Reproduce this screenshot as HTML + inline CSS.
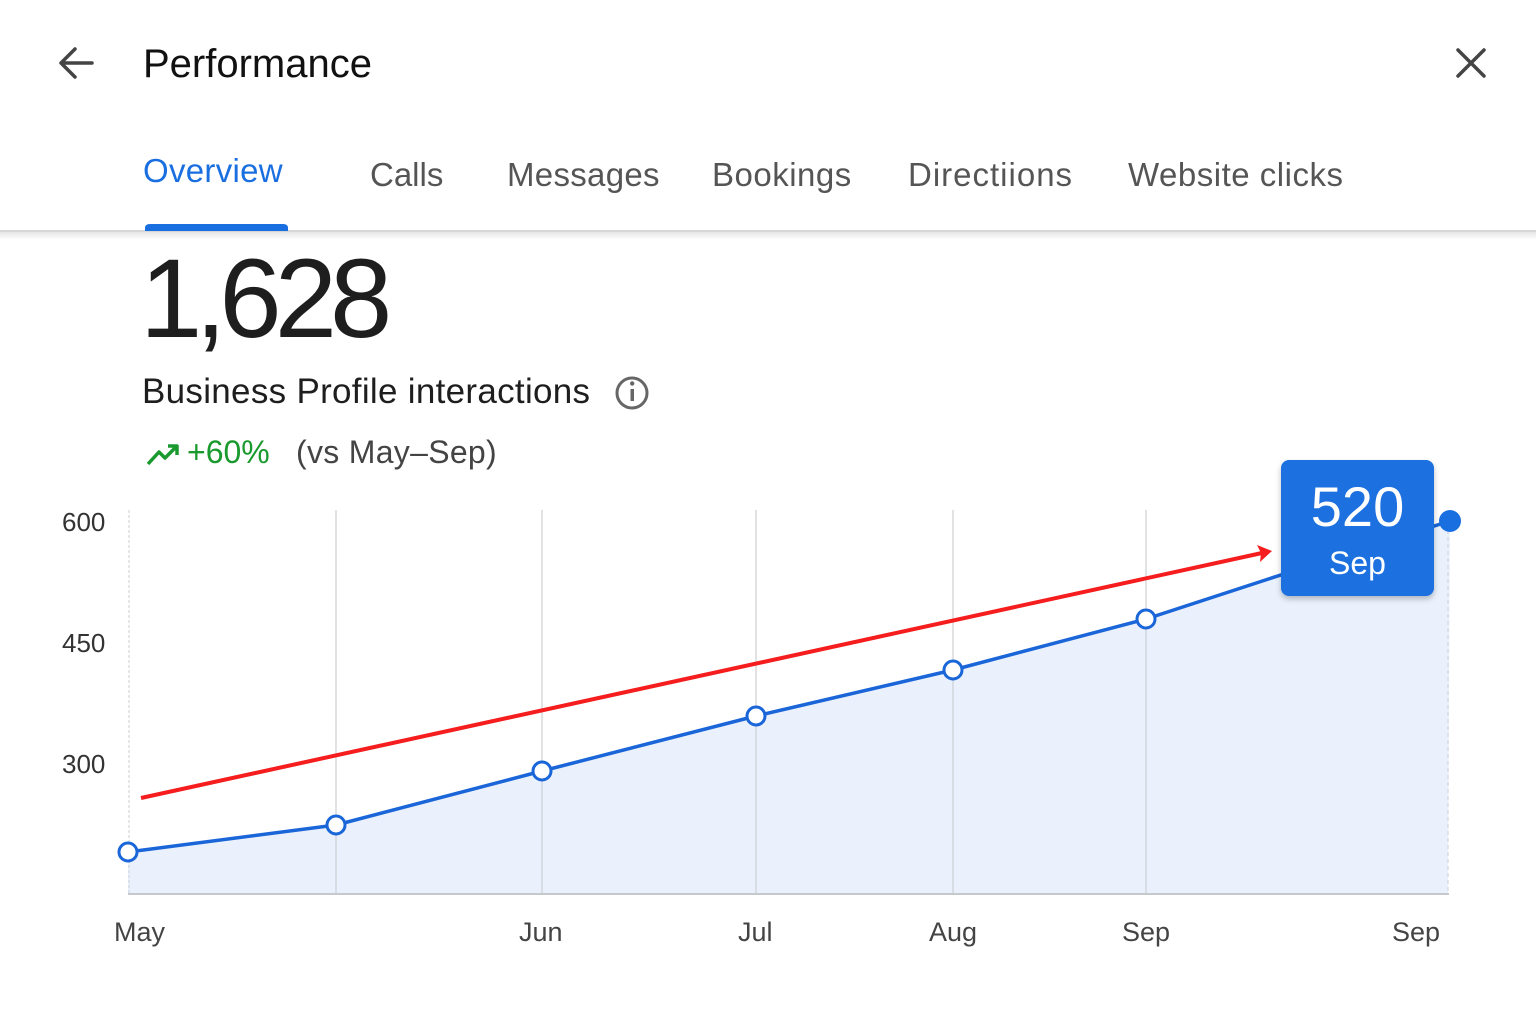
<!DOCTYPE html>
<html><head><meta charset="utf-8"><style>
html,body{margin:0;padding:0;background:#fff;}
body{width:1536px;height:1024px;overflow:hidden;position:relative;font-family:"Liberation Sans",sans-serif;}
.t{position:absolute;white-space:nowrap;}
</style></head><body>
<svg width="1536" height="1024" style="position:absolute;left:0;top:0">
<defs>
<linearGradient id="sh" x1="0" y1="0" x2="0" y2="1"><stop offset="0" stop-color="#000" stop-opacity="0.10"/><stop offset="1" stop-color="#000" stop-opacity="0"/></linearGradient>
<filter id="ds" x="-20%" y="-20%" width="140%" height="140%"><feDropShadow dx="0" dy="3" stdDeviation="3" flood-opacity="0.25"/></filter>
</defs>
<path d="M92 63 H62 M75 49 L61 63 L75 77" stroke="#444" stroke-width="3.5" fill="none" stroke-linecap="round" stroke-linejoin="round"/>
<path d="M1458 50 L1484 76 M1484 50 L1458 76" stroke="#444" stroke-width="3.5" stroke-linecap="round"/>
<rect x="0" y="230" width="1536" height="2" fill="#d6d6d6"/>
<rect x="0" y="232" width="1536" height="8" fill="url(#sh)"/>
<path d="M145 231 V228 Q145 224 150 224 H283 Q288 224 288 228 V231 Z" fill="#1a6fe0"/>
<circle cx="632" cy="393" r="15" fill="none" stroke="#666" stroke-width="3"/>
<rect x="630.5" y="389" width="3.5" height="12" fill="#666"/><circle cx="632.2" cy="383.5" r="2.2" fill="#666"/>
<path d="M148 464 L159 452 L165 458 L176 447 M168 446 H177 V455" stroke="#1a9a2e" stroke-width="3.5" fill="none" stroke-linejoin="round"/>
<path d="M128 852 L336 825 L542 771 L756 716 L953 670 L1146 619 L1290 572 L1450 521 L1448 893 L128 893 Z" fill="#eaf1fd"/>
<g stroke="#cfd2d6" stroke-width="1.3">
<line x1="336" y1="510" x2="336" y2="893"/><line x1="542" y1="510" x2="542" y2="893"/><line x1="756" y1="510" x2="756" y2="893"/><line x1="953" y1="510" x2="953" y2="893"/><line x1="1146" y1="510" x2="1146" y2="893"/>
</g>
<line x1="129" y1="510" x2="129" y2="893" stroke="#d5d8dc" stroke-width="1.3" stroke-dasharray="3 2"/>
<line x1="1448" y1="530" x2="1448" y2="893" stroke="#d5d8dc" stroke-width="1.3" stroke-dasharray="4 3"/>
<line x1="128" y1="894" x2="1449" y2="894" stroke="#c5c8cc" stroke-width="2"/>
<line x1="141" y1="798" x2="1262" y2="553" stroke="#f51d1d" stroke-width="4"/>
<path d="M1272 551 L1257 545 L1261 553 L1260 562 Z" fill="#f51d1d"/>
<polyline points="128,852 336,825 542,771 756,716 953,670 1146,619 1290,572 1450,521" fill="none" stroke="#1a66d9" stroke-width="3.5" stroke-linejoin="round"/>
<g fill="#fff" stroke="#1a66d9" stroke-width="3">
<circle cx="128" cy="852" r="9"/><circle cx="336" cy="825" r="9"/><circle cx="542" cy="771" r="9"/><circle cx="756" cy="716" r="9"/><circle cx="953" cy="670" r="9"/><circle cx="1146" cy="619" r="9"/>
</g>
<circle cx="1450" cy="521" r="11" fill="#1a6fe0"/>
<rect x="1281" y="460" width="153" height="136" rx="8" fill="#1a6fe0" filter="url(#ds)"/>
</svg>
<div class="t" style="left:143px;top:42px;font-size:40px;color:#111;">Performance</div>
<div class="t" style="left:143px;top:152px;font-size:33px;color:#1a6fe0;letter-spacing:0.3px;">Overview</div>
<div class="t" style="left:370px;top:156px;font-size:33px;color:#555;">Calls</div>
<div class="t" style="left:507px;top:156px;font-size:33px;color:#555;letter-spacing:0.3px;">Messages</div>
<div class="t" style="left:712px;top:156px;font-size:33px;color:#555;letter-spacing:0.5px;">Bookings</div>
<div class="t" style="left:908px;top:156px;font-size:33px;color:#555;letter-spacing:1px;">Directiions</div>
<div class="t" style="left:1128px;top:156px;font-size:33px;color:#555;letter-spacing:0.5px;">Website clicks</div>
<div class="t" style="left:140px;top:234px;font-size:112px;color:#1e1e1e;letter-spacing:-7px;">1,628</div>
<div class="t" style="left:142px;top:372px;font-size:35px;color:#1e1e1e;letter-spacing:0.3px;">Business Profile interactions</div>
<div class="t" style="left:187px;top:434px;font-size:32px;color:#1a9a2e;">+60%</div>
<div class="t" style="left:296px;top:434px;font-size:32px;color:#444;letter-spacing:0.3px;">(vs May–Sep)</div>
<div class="t" style="left:62px;top:507px;font-size:26px;color:#333;">600</div>
<div class="t" style="left:62px;top:628px;font-size:26px;color:#333;">450</div>
<div class="t" style="left:62px;top:749px;font-size:26px;color:#333;">300</div>
<div class="t" style="left:114px;top:917px;font-size:27px;color:#444;">May</div>
<div class="t" style="left:519px;top:917px;font-size:27px;color:#444;">Jun</div>
<div class="t" style="left:738px;top:917px;font-size:27px;color:#444;">Jul</div>
<div class="t" style="left:929px;top:917px;font-size:27px;color:#444;">Aug</div>
<div class="t" style="left:1122px;top:917px;font-size:27px;color:#444;">Sep</div>
<div class="t" style="left:1392px;top:917px;font-size:27px;color:#444;">Sep</div>
<div class="t" style="left:1281px;top:474px;width:153px;text-align:center;font-size:56px;color:#fff;">520</div>
<div class="t" style="left:1281px;top:545px;width:153px;text-align:center;font-size:32px;color:#fff;">Sep</div>
</body></html>
